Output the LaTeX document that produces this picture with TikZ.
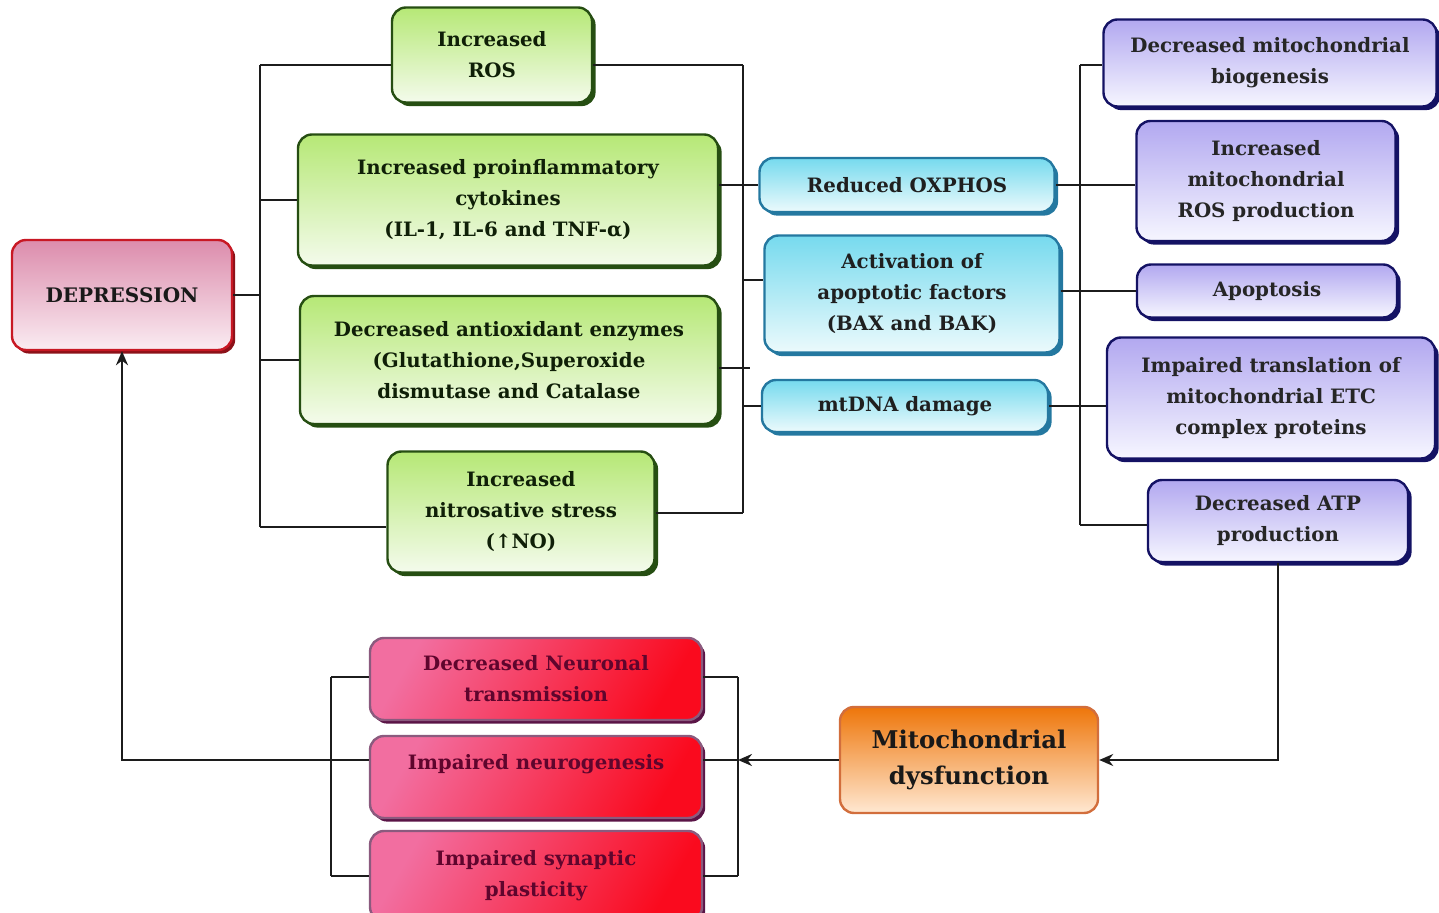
\documentclass[tikz,border=0pt]{standalone}
\usepackage{amsmath}
\usepackage{amssymb}
\usepackage{tikz}
\usepackage{xcolor}
\usepackage{fontspec}
\setmainfont{DejaVu Serif}
\usetikzlibrary{arrows.meta, positioning, calc, shadows}

\definecolor{grntop}{RGB}{182,232,118}
\definecolor{grnbot}{RGB}{244,251,236}
\definecolor{grnline}{RGB}{38,78,18}
\definecolor{cyntop}{RGB}{118,218,238}
\definecolor{cynbot}{RGB}{236,250,252}
\definecolor{cynline}{RGB}{36,120,160}
\definecolor{prptop}{RGB}{178,168,240}
\definecolor{prpbot}{RGB}{246,246,255}
\definecolor{prpline}{RGB}{20,18,100}
\definecolor{redtop}{RGB}{250,10,30}
\definecolor{redbot}{RGB}{242,110,160}
\definecolor{redline}{RGB}{90,20,70}
\definecolor{deptop}{RGB}{220,140,172}
\definecolor{depbot}{RGB}{250,236,242}
\definecolor{depline}{RGB}{200,24,36}
\definecolor{mitotop}{RGB}{238,118,10}
\definecolor{mitobot}{RGB}{255,232,210}
\definecolor{mitoline}{RGB}{210,110,60}
\definecolor{wire}{RGB}{28,28,28}

\begin{document}
\begin{tikzpicture}[x=0.5pt, y=-0.5pt, >={Stealth[length=7pt, width=6pt]},
  box/.style={rounded corners=7pt, line width=1.2pt, align=center, inner sep=2pt,
    font=\fontsize{9.9}{15.5}\selectfont\bfseries},
  grnbox/.style={box, draw=grnline, top color=grntop, bottom color=grnbot, text=grnline!40!black,
    drop shadow={shadow xshift=1.8pt, shadow yshift=-1.8pt, fill=grnline, opacity=1}},
  cynbox/.style={box, draw=cynline, top color=cyntop, bottom color=cynbot, text=black!88,
    drop shadow={shadow xshift=1.8pt, shadow yshift=-1.8pt, fill=cynline, opacity=1}},
  prpbox/.style={box, draw=prpline, top color=prptop, bottom color=prpbot, text=black!85,
    drop shadow={shadow xshift=1.8pt, shadow yshift=-1.8pt, fill=prpline, opacity=1}},
  redbox/.style={box, draw=redline!70, left color=redbot, right color=redtop, shading angle=60,
    text={rgb,255:red,95;green,5;blue,45},
    drop shadow={shadow xshift=1.6pt, shadow yshift=-1.8pt, fill=redline, opacity=1}},
  wire/.style={draw=wire, line width=1.1pt}]

\useasboundingbox (0,0) rectangle (1439,913);

\node[box, draw=depline, top color=deptop, bottom color=depbot, text=black!90,
  font=\fontsize{10}{14}\selectfont\bfseries, minimum width=110pt, minimum height=55pt,
  drop shadow={shadow xshift=1.6pt, shadow yshift=-1.8pt, fill=depline!70!black, opacity=1}]
  (dep) at (122,295) {DEPRESSION};

\node[grnbox, minimum width=100pt, minimum height=47.5pt] (ros) at (492,55) {Increased\\ROS};
\node[grnbox, minimum width=210pt, minimum height=65.5pt] (cyto) at (508,200)
  {Increased proinflammatory\\cytokines\\(IL-1, IL-6 and TNF-α)};
\node[grnbox, minimum width=209pt, minimum height=64pt] (anti) at (509,360)
  {Decreased antioxidant enzymes\\(Glutathione,Superoxide\\dismutase and Catalase};
\node[grnbox, minimum width=133.5pt, minimum height=60.5pt] (nitro) at (521,512)
  {Increased\\nitrosative stress\\(↑NO)};

\node[cynbox, minimum width=147.5pt, minimum height=27pt] (oxphos) at (907,185) {Reduced OXPHOS};
\node[cynbox, minimum width=147.5pt, minimum height=58.5pt] (act) at (912,294)
  {Activation of\\apoptotic factors\\(BAX and BAK)};
\node[cynbox, minimum width=143pt, minimum height=26pt] (mtdna) at (905,406) {mtDNA damage};

\node[prpbox, minimum width=166.5pt, minimum height=43.5pt] (bio) at (1270,63)
  {Decreased mitochondrial\\biogenesis};
\node[prpbox, minimum width=129.5pt, minimum height=60pt] (mros) at (1266,181)
  {Increased\\mitochondrial\\ROS production};
\node[prpbox, minimum width=130pt, minimum height=26.5pt] (apop) at (1267,291) {Apoptosis};
\node[prpbox, minimum width=164pt, minimum height=60.5pt] (transl) at (1271,398)
  {Impaired translation of\\mitochondrial ETC\\complex proteins};
\node[prpbox, minimum width=130pt, minimum height=41pt] (atp) at (1278,521)
  {Decreased ATP\\production};

\node[box, draw=mitoline, top color=mitotop, bottom color=mitobot, text=black!90,
  font=\fontsize{12.2}{18}\selectfont\bfseries, minimum width=129pt, minimum height=53pt]
  (mito) at (969,760) {Mitochondrial\\dysfunction};

\node[redbox, minimum width=166pt, minimum height=41pt] (trans) at (536,679)
  {Decreased Neuronal\\transmission};
\node[redbox, minimum width=166pt, minimum height=41pt] (neuro) at (536,777)
  {Impaired neurogenesis\\\mbox{}};
\node[redbox, minimum width=166pt, minimum height=45pt] (syn) at (536,876)
  {Impaired synaptic\\plasticity};

\coordinate (L1) at (260,65);
\coordinate (L2) at (260,527);
\coordinate (R1) at (743,65);
\coordinate (R2) at (743,513);
\coordinate (R3) at (750,368);
\coordinate (P1) at (1080,65);
\coordinate (P2) at (1080,525);
\coordinate (B1) at (738,677);
\coordinate (B2) at (738,876);
\coordinate (C1) at (331,677);
\coordinate (C2) at (331,876);

\draw[wire] (L1) -- (L2);
\draw[wire] (L1) -- (L1 -| ros.west);
\draw[wire] (cyto.west) -- (cyto.west -| L1);
\draw[wire] (anti.west) -- (anti.west -| L1);
\draw[wire] (L2) -- (L2 -| nitro.west);
\draw[wire] (dep.east) -- (dep.east -| L1);

\draw[wire] (R1) -- (R2);
\draw[wire] (R1 -| ros.east) -- (R1);
\draw[wire] (R2 -| nitro.east) -- (R2);
\draw[wire] (R3 -| anti.east) -- (R3);
\draw[wire] (oxphos.west -| cyto.east) -- (oxphos.west);
\draw[wire] ([yshift=7pt]act.west -| R1) -- ([yshift=7pt]act.west);
\draw[wire] (mtdna.west -| R1) -- (mtdna.west);

\draw[wire] (P1) -- (P2);
\draw[wire] (P1) -- (P1 -| bio.west);
\draw[wire] (oxphos.east) -- (oxphos.east -| mros.west);
\draw[wire] (apop.west -| act.east) -- (apop.west);
\draw[wire] (mtdna.east) -- (mtdna.east -| transl.west);
\draw[wire] (P2) -- (P2 -| atp.west);

\draw[wire, ->] (atp.south) |- (mito.east);
\draw[wire, ->] (mito.west) -- (mito.west -| B1);

\draw[wire] (B1) -- (B2);
\draw[wire] (B1 -| trans.east) -- (B1);
\draw[wire] (B2 -| syn.east) -- (B2);
\draw[wire] (mito.west -| neuro.east) -- (mito.west -| B1);

\draw[wire] (C1) -- (C2);
\draw[wire] (C1) -- (C1 -| trans.west);
\draw[wire] (C2) -- (C2 -| syn.west);
\draw[wire] (mito.west -| neuro.west) -- (mito.west -| C1);
\draw[wire, ->] (mito.west -| C1) -| (dep.south);
\end{tikzpicture}
\end{document}
